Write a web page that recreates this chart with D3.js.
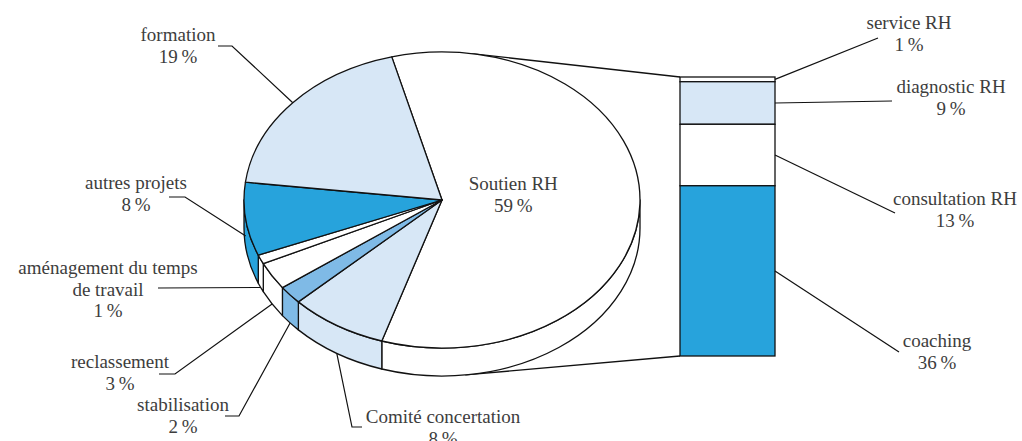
<!DOCTYPE html>
<html>
<head>
<meta charset="utf-8">
<script src="https://cdn.jsdelivr.net/npm/d3@7"></script>
<style>
  body { margin: 0; background: #fff; }
  svg text { font-family: "Liberation Serif", "DejaVu Serif", serif; font-size: 19px; fill: #3d3d3d; }
</style>
</head>
<body>
<svg id="chart" width="1022" height="441"></svg>
<script>
// Pie slices, clockwise from the "Soutien RH" slice
const pieCategories = ["Soutien RH", "Comité concertation", "stabilisation", "reclassement",
                       "aménagement du temps de travail", "autres projets", "formation"];
const pieValues = [59, 8, 2, 3, 1, 8, 19];

// Breakdown of "Soutien RH", top to bottom
const barCategories = ["service RH", "diagnostic RH", "consultation RH", "coaching"];
const barValues = [1, 9, 13, 36];

const pieColors = ["#ffffff", "#d7e7f6", "#7fbae6", "#ffffff", "#ffffff", "#27a3dc", "#d7e7f6"];
const barColors = ["#ffffff", "#d7e7f6", "#ffffff", "#27a3dc"];

const svg = d3.select("#chart");
const stroke = "#111";

// ---- pie geometry (flattened disc) ----
const cx = 442, cy = 200, rx = 198, ry = 148, depth = 28;
const start = -14.7 * Math.PI / 180;
const pie = d3.pie().sort(null).value(d => d)
  .startAngle(start).endAngle(start + 2 * Math.PI);
const arcs = pie(pieValues);

const pt = (a, dy = 0, k = 1) => [cx + k * rx * Math.sin(a), cy - k * ry * Math.cos(a) + dy];

// ---- bar geometry ----
const barX0 = 680, barX1 = 775;
const barTotal = d3.sum(barValues);
const yBar = d3.scaleLinear().domain([0, barTotal]).range([77, 356]);
let acc = 0;
const barSegs = barValues.map((v, i) => {
  const s = { i, v, y0: yBar(acc), y1: yBar(acc + v) };
  acc += v;
  return s;
});

// ---- connector lines from the disc to the bar (tangents to the ellipse) ----
function tangent(px, py, ecy, pick) {
  const u = (px - cx) / rx, v = (py - ecy) / ry;
  const r = Math.hypot(u, v), phi = Math.atan2(v, u), d = Math.acos(1 / r);
  const t = pick > 0 ? phi + d : phi - d;
  return [cx + rx * Math.cos(t), ecy + ry * Math.sin(t)];
}
const gConn = svg.append("g").attr("stroke", stroke).attr("stroke-width", 1.3).attr("fill", "none");
const tTop = tangent(barX0, yBar(0), cy, -1);
const tBot = tangent(barX0, yBar(barTotal), cy + depth, 1);
gConn.append("line").attr("x1", tTop[0]).attr("y1", tTop[1]).attr("x2", barX0).attr("y2", yBar(0));
gConn.append("line").attr("x1", tBot[0]).attr("y1", tBot[1]).attr("x2", barX0).attr("y2", yBar(barTotal));

// ---- side walls (front half only) ----
const gSide = svg.append("g").attr("stroke", stroke).attr("stroke-width", 1.3).attr("stroke-linejoin", "round");
arcs.forEach((d, i) => {
  const s = Math.max(d.startAngle, Math.PI / 2);
  const e = Math.min(d.endAngle, 3 * Math.PI / 2);
  if (e <= s) return;
  const p0 = pt(s), p1 = pt(e), q1 = pt(e, depth), q0 = pt(s, depth);
  const path = `M${p0}A${rx},${ry} 0 0 1 ${p1}L${q1}A${rx},${ry} 0 0 0 ${q0}Z`;
  gSide.append("path").attr("d", path).attr("fill", pieColors[i]);
});

// ---- top faces ----
const gTop = svg.append("g").attr("stroke", stroke).attr("stroke-width", 1.3).attr("stroke-linejoin", "round");
arcs.forEach((d, i) => {
  const p0 = pt(d.startAngle), p1 = pt(d.endAngle);
  const large = d.endAngle - d.startAngle > Math.PI ? 1 : 0;
  const path = `M${cx},${cy}L${p0}A${rx},${ry} 0 ${large} 1 ${p1}Z`;
  gTop.append("path").attr("d", path).attr("fill", pieColors[i]);
});

// ---- bar ----
const gBar = svg.append("g").attr("stroke", stroke).attr("stroke-width", 1.3);
barSegs.forEach(s => {
  gBar.append("rect").attr("x", barX0).attr("y", s.y0)
    .attr("width", barX1 - barX0).attr("height", s.y1 - s.y0)
    .attr("fill", barColors[s.i]);
});

// ---- labels and leaders ----
const pct = v => `${v}\u2009%`;
const gLead = svg.append("g").attr("stroke", stroke).attr("stroke-width", 1.2).attr("fill", "none");
const gText = svg.append("g").attr("text-anchor", "middle");

function label(lines, x, y) {
  lines.forEach((t, k) => gText.append("text").attr("x", x).attr("y", y + k * 21.5).text(t));
}

// pie labels: text block position, elbow points of the leader, how far down the wall it ends
const pieLabelLayout = [
  { lines: ["Soutien RH"], inside: true },
  { lines: ["Comité concertation"], x: 443, y: 423, elbow: [[362, 427], [352, 427]], drop: 1 },
  { lines: ["stabilisation"], x: 183, y: 411, elbow: [[225, 416], [239, 416]], drop: 1 },
  { lines: ["reclassement"], x: 120, y: 368, elbow: [[159, 374], [175, 374]], drop: 1 },
  { lines: ["aménagement du temps", "de travail"], x: 108, y: 274, elbow: [[158, 288]], drop: 1 },
  { lines: ["autres projets"], x: 136, y: 189, elbow: [[169, 197], [185, 197]], drop: 0.6 },
  { lines: ["formation"], x: 178, y: 41, elbow: [[218, 46], [232, 46]], drop: 0 }
];

arcs.forEach((d, i) => {
  const L = pieLabelLayout[i];
  const mid = (d.startAngle + d.endAngle) / 2;
  if (L.inside) {
    const c = pt(mid, 0, 0.36);
    label([...L.lines, pct(pieValues[i])], c[0], c[1] - 11);
    return;
  }
  const anchor = pt(mid, depth * L.drop);
  gLead.append("path").attr("d", d3.line()([...L.elbow, anchor]));
  label([...L.lines, pct(pieValues[i])], L.x, L.y);
});

// bar labels
const barLabelLayout = [
  { x: 909, y: 29, end: [878, 38] },
  { x: 951, y: 93, end: [892, 101] },
  { x: 955, y: 205, end: [895, 213] },
  { x: 937, y: 347, end: [899, 352] }
];
barSegs.forEach(s => {
  const L = barLabelLayout[s.i];
  const ym = (s.y0 + s.y1) / 2;
  gLead.append("path").attr("d", d3.line()([[barX1, ym], L.end]));
  label([barCategories[s.i], pct(s.v)], L.x, L.y);
});
</script>
</body>
</html>
